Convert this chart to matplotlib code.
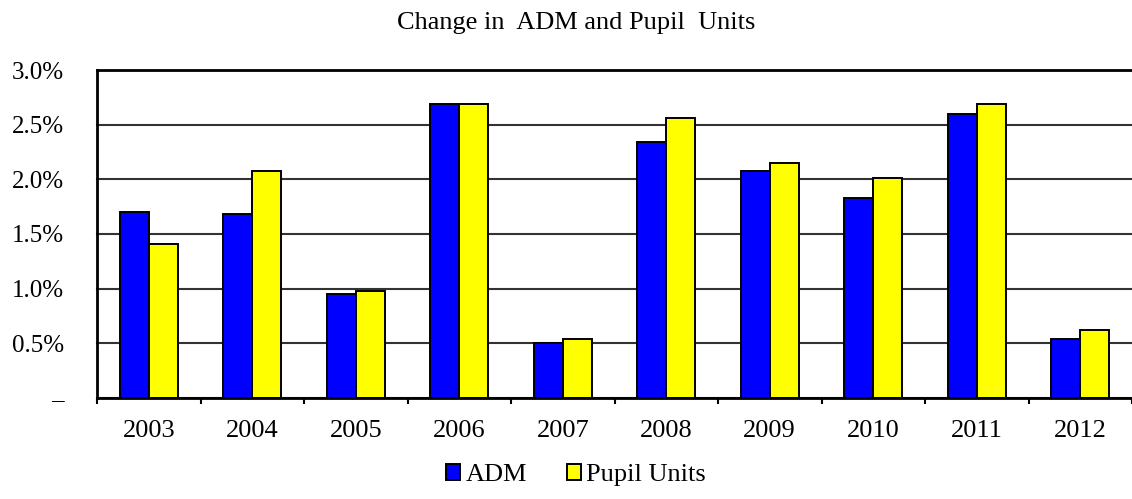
import numpy as np
import matplotlib
matplotlib.use("Agg")
import matplotlib.pyplot as plt
from matplotlib.ticker import FixedLocator, FuncFormatter

# values (percent change)
years = ["2003", "2004", "2005", "2006", "2007", "2008", "2009", "2010", "2011", "2012"]
adm = [1.70, 1.68, 0.95, 2.69, 0.50, 2.34, 2.08, 1.83, 2.60, 0.54]
pupil_units = [1.41, 2.08, 0.98, 2.69, 0.54, 2.56, 2.15, 2.01, 2.69, 0.62]
y_ticks = [0, 0.5, 1.0, 1.5, 2.0, 2.5, 3.0]

plt.rcParams['font.family'] = ['Liberation Serif', 'DejaVu Serif']
fs = 19
fs_y = 18

fig = plt.figure(figsize=(11.32, 4.99), dpi=100)
ax = fig.add_axes([97 / 1132, 1 - 397.7 / 499, 1 - 97 / 1132, (397.7 - 70.3) / 499])

x = np.arange(len(years))
w = 0.28
ax.bar(x - w / 2, adm, w, color="#0000FF", edgecolor="black", linewidth=1.4,
       label="ADM", zorder=3)
ax.bar(x + w / 2, pupil_units, w, color="#FFFF00", edgecolor="black", linewidth=1.4,
       label="Pupil Units", zorder=3)

ax.set_ylim(0, 3.0)
ax.set_xlim(-0.5, -0.5 + (1132 - 97) / 104)

ax.yaxis.set_major_locator(FixedLocator(y_ticks))
ax.yaxis.set_major_formatter(FuncFormatter(lambda v, p: "\u2013" if v == 0 else f"{v:.1f}%"))
ax.tick_params(axis="y", length=0, pad=24, labelsize=fs_y)
ax.grid(axis="y", color="#333333", linewidth=1.5, zorder=0)
for gl in ax.get_ygridlines():
    gl.set_clip_on(False)
ax.get_ygridlines()[-1].set_color("black")
ax.get_ygridlines()[-1].set_linewidth(2)

ax.set_xticks(x)
ax.set_xticklabels(years)
ax.set_xticks(np.arange(-0.5, len(years), 1), minor=True)
ax.tick_params(axis="x", which="major", length=0, pad=16, labelsize=fs)
ax.tick_params(axis="x", which="minor", length=4, width=1.5, direction="out")

for s in ["top", "right"]:
    ax.spines[s].set_visible(False)
for s in ["left", "bottom"]:
    ax.spines[s].set_linewidth(2)
    ax.spines[s].set_zorder(4)

fig.text(576 / 1132, 1 - 23 / 499, "Change in  ADM and Pupil  Units",
         ha="center", va="center", fontsize=fs)

fig.legend(loc="center", bbox_to_anchor=(576 / 1132, 1 - 475 / 499), ncol=2,
           frameon=False, fontsize=fs, handlelength=0.55, handleheight=0.55,
           handletextpad=0.2, columnspacing=1.5)

fig.savefig("out.png", dpi=100)
